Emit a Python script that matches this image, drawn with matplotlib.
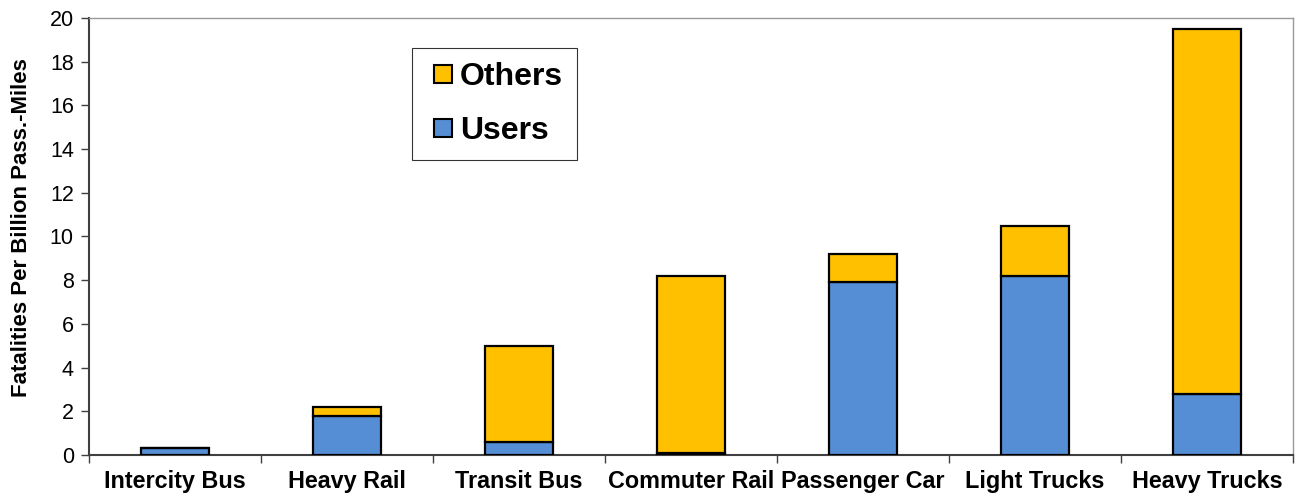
import matplotlib
matplotlib.use("Agg")
import matplotlib.pyplot as plt
from matplotlib.patches import Patch, Rectangle
from matplotlib.legend_handler import HandlerPatch
import numpy as np

categories = ["Intercity Bus", "Heavy Rail", "Transit Bus", "Commuter Rail",
              "Passenger Car", "Light Trucks", "Heavy Trucks"]
users = [0.3, 1.8, 0.6, 0.1, 7.9, 8.2, 2.8]
totals = [0.3, 2.2, 5.0, 8.2, 9.2, 10.5, 19.5]
others = [t - u for t, u in zip(totals, users)]

plt.rcParams['font.family'] = ['Liberation Sans', 'DejaVu Sans']

BLUE = "#558ED5"
ORANGE = "#FFC000"

fig = plt.figure(figsize=(12.98, 4.97), dpi=100)
ax = fig.add_axes([0.0686, 0.0845, 0.9275, 0.8793])

x = np.arange(len(categories))
w = 0.4
ax.bar(x, users, w, color=BLUE, edgecolor="black", linewidth=1.6, zorder=3)
ax.bar(x, others, w, bottom=users, color=ORANGE, edgecolor="black", linewidth=1.6, zorder=3)

ax.set_xlim(-0.5, len(categories) - 0.5)
ax.set_ylim(0, 20)
ax.set_yticks(np.arange(0, 21, 2))
ax.set_xticks(np.arange(-0.5, len(categories), 1.0), minor=False)
ax.set_xticklabels([])
ax.set_xticks(x, minor=True)
ax.set_xticklabels(categories, minor=True, fontsize=16.8, fontweight="bold")
ax.tick_params(axis="x", which="minor", length=0, pad=11)
ax.tick_params(axis="x", which="major", length=6, width=1, color="#404040", direction="out")
ax.tick_params(axis="y", length=6, width=1, color="#404040", labelsize=15.5, pad=5)

for s in ["left", "bottom"]:
    ax.spines[s].set_color("#404040")
    ax.spines[s].set_linewidth(1.5)
for s in ["top", "right"]:
    ax.spines[s].set_color("#999999")
    ax.spines[s].set_linewidth(1.0)

ax.set_ylabel("Fatalities Per Billion Pass.-Miles", fontsize=16, fontweight="bold")
ax.yaxis.set_label_coords(-0.047, 0.52)


def square_patch(legend, orig_handle, xdescent, ydescent, width, height, fontsize):
    s = 0.56 * fontsize
    return Rectangle((-xdescent + width - s, -ydescent + (height - s) / 2), s, s)


handles = [Patch(facecolor=ORANGE, edgecolor="black", linewidth=1.5, label="Others"),
           Patch(facecolor=BLUE, edgecolor="black", linewidth=1.5, label="Users")]
leg = ax.legend(handles=handles, loc="upper left", bbox_to_anchor=(0.268, 0.931),
                prop={"size": 23, "weight": "bold"}, frameon=True, fancybox=False,
                edgecolor="black", handlelength=0.82, handleheight=0.7, handletextpad=0.25,
                borderpad=0.44, labelspacing=0.75, borderaxespad=0,
                handler_map={Patch: HandlerPatch(patch_func=square_patch)})
leg.get_frame().set_linewidth(0.8)

fig.savefig("out.png", dpi=100)
